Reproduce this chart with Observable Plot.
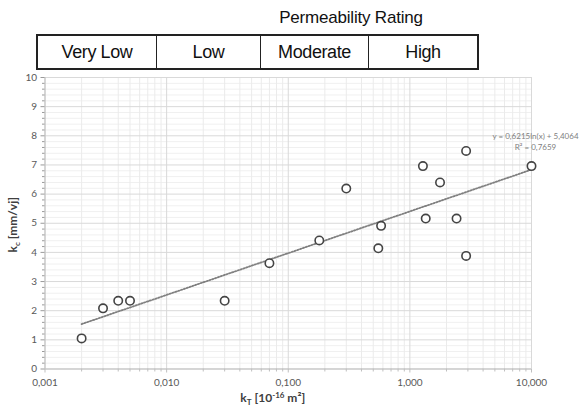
<!DOCTYPE html>
<html>
<head>
<meta charset="utf-8">
<script src="https://cdn.jsdelivr.net/npm/d3@7"></script>
<script src="https://cdn.jsdelivr.net/npm/@observablehq/plot@0.6"></script>
<style>
  html, body { margin: 0; padding: 0; background: #fff; }
  #wrap { position: relative; width: 582px; height: 408px; overflow: hidden; }
  #head { position: relative; width: 582px; height: 72px; font-family: "Liberation Sans", Arial, sans-serif; color: #111; }
  #title { position: absolute; left: 351px; top: 8px; transform: translateX(-50%); font-size: 17px; white-space: nowrap; letter-spacing: -0.2px; }
  #rating { position: absolute; left: 36px; top: 34px; height: 36px; display: grid; grid-template-columns: 118px 104px 108px 109px; border: 2px solid #222; box-sizing: border-box; }
  #rating div { display: flex; align-items: center; justify-content: center; font-size: 18px; letter-spacing: -0.4px; border-left: 1.5px solid #222; }
  #rating div:first-child { border-left: none; }
  #chart { position: absolute; left: 0; top: 72px; }
</style>
</head>
<body>
<div id="wrap">
  <div id="head">
    <div id="title"></div>
    <div id="rating"></div>
  </div>
  <div id="chart"></div>
</div>
<script>
// ---- data ----
const kT = [0.002, 0.003, 0.004, 0.005, 0.03, 0.07, 0.18, 0.3, 0.55, 0.58, 1.28, 1.35, 1.77, 2.42, 2.9, 2.9, 10];
const kc = [1.05, 2.08, 2.34, 2.34, 2.34, 3.63, 4.41, 6.19, 4.14, 4.91, 6.96, 5.16, 6.40, 5.16, 7.48, 3.88, 6.96];
const trendX = [0.002, 10];
const trendY = [1.54, 6.84];
const xTicks = [0.001, 0.01, 0.1, 1, 10];
const xTickLabels = ["0,001", "0,010", "0,100", "1,000", "10,000"];
const yTicks = [0, 1, 2, 3, 4, 5, 6, 7, 8, 9, 10];
const ratingTitle = "Permeability Rating";
const ratingLabels = ["Very Low", "Low", "Moderate", "High"];
const equationLines = ["y = 0,6215ln(x) + 5,4064", "R² = 0,7659"];

// ---- header ----
document.getElementById("title").textContent = ratingTitle;
const rating = document.getElementById("rating");
for (const r of ratingLabels) {
  const d = document.createElement("div");
  d.textContent = r;
  rating.appendChild(d);
}

// ---- build tables ----
const points = kT.map((x, i) => ({x, y: kc[i]}));
const trend = trendX.map((x, i) => ({x, y: trendY[i]}));
const xMinor = [];
for (let e = -3; e < 1; e++) for (let m = 2; m <= 9; m++) xMinor.push(m * Math.pow(10, e));
const yMinor = d3.range(0, 10.001, 0.2).map(v => +v.toFixed(1)).filter(v => !Number.isInteger(v));

const W = 582, H = 336;
const mL = 44.5, mR = 51, mT = 5, mB = 39.5;

const plot = Plot.plot({
  width: W,
  height: H,
  marginLeft: mL,
  marginRight: mR,
  marginTop: mT,
  marginBottom: mB,
  style: {fontFamily: "Lato, 'Open Sans', sans-serif", color: "#595959", background: "transparent", overflow: "visible"},
  x: {type: "log", domain: [0.001, 10]},
  y: {domain: [0, 10]},
  marks: [
    Plot.ruleY(yMinor, {stroke: "#f0f0f0", strokeWidth: 1}),
    Plot.ruleX(xMinor, {stroke: "#ebebeb", strokeWidth: 1}),
    Plot.ruleY(yTicks, {stroke: "#d9d9d9", strokeWidth: 1}),
    Plot.ruleX(xTicks, {stroke: "#d9d9d9", strokeWidth: 1}),
    Plot.ruleY([0], {stroke: "#bfbfbf", strokeWidth: 1}),
    Plot.ruleX([0.001], {stroke: "#bfbfbf", strokeWidth: 1}),
    Plot.axisX({ticks: xMinor, tickSize: 3, text: null, stroke: "#bfbfbf", label: null}),
    Plot.axisX({ticks: xTicks, tickSize: 4, tickPadding: 6, fontSize: 10, stroke: "#bfbfbf", fill: "#595959",
      tickFormat: d => xTickLabels[xTicks.indexOf(d)], label: null}),
    Plot.axisY({ticks: yMinor, tickSize: 2.5, text: null, stroke: "#9a9a9a", label: null}),
    Plot.axisY({ticks: yTicks, tickSize: 4, tickPadding: 4, fontSize: 10, stroke: "#9a9a9a", fill: "#595959",
      tickFormat: d => String(d), label: null}),
    Plot.line(trend, {x: "x", y: "y", stroke: "#808080", strokeWidth: 1.8, strokeDasharray: "1.3,1.7"}),
    Plot.dot(points, {x: "x", y: "y", r: 4.2, stroke: "#444", strokeWidth: 1.6, fill: "white"}),
    Plot.text([equationLines.join("\n")], {x: () => 10, y: () => 8.15, dx: 4, textAnchor: "middle",
      lineAnchor: "top", fontSize: 8, fill: "#808080", lineHeight: 1.35})
  ]
});
document.getElementById("chart").appendChild(plot);

// ---- axis titles with sub/superscripts ----
const svg = d3.select(plot);
const xs = plot.scale("x"), ys = plot.scale("y");
const xMid = (xs.range[0] + xs.range[1]) / 2 - 15;
const yMid = (ys.range[0] + ys.range[1]) / 2 + 2;

const yt = svg.append("text")
  .attr("transform", `translate(17,${yMid}) rotate(-90)`)
  .attr("text-anchor", "middle")
  .attr("font-family", "Lato, 'Open Sans', sans-serif")
  .attr("font-weight", "bold").attr("font-size", 12).attr("fill", "#404040");
yt.append("tspan").text("k");
yt.append("tspan").attr("dy", 3).attr("font-size", 8).text("c");
yt.append("tspan").attr("dy", -3).text(" [mm/vj]");

const xt = svg.append("text")
  .attr("x", xMid).attr("y", H - 6)
  .attr("text-anchor", "middle")
  .attr("font-family", "Lato, 'Open Sans', sans-serif")
  .attr("font-weight", "bold").attr("font-size", 12).attr("fill", "#404040");
xt.append("tspan").text("k");
xt.append("tspan").attr("dy", 3).attr("font-size", 8).text("T");
xt.append("tspan").attr("dy", -3).text(" [10");
xt.append("tspan").attr("dy", -4).attr("font-size", 8).text("-16");
xt.append("tspan").attr("dy", 4).text(" m²]");
</script>
</body>
</html>
